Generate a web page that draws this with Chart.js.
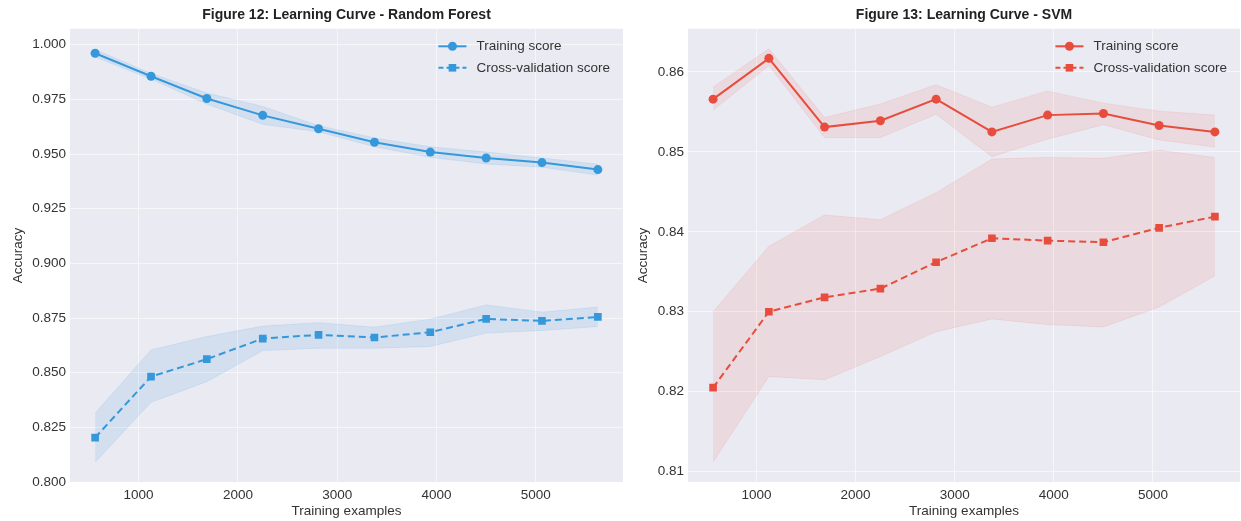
<!DOCTYPE html>
<html>
<head>
<meta charset="utf-8">
<script src="https://cdn.jsdelivr.net/npm/chart.js@4.4.0/dist/chart.umd.min.js"></script>
<style>
    body { margin: 0; background: #ffffff; }
    .painel { position: absolute; top: 0; }
</style>
</head>
<body>
<div class="painel" style="left:0px"><canvas id="graficoRandomForestCanvas" width="625" height="521"></canvas></div>
<div class="painel" style="left:625px"><canvas id="graficoSVMCanvas" width="616" height="521"></canvas></div>
<script>
// tamanhos de treino (eixo x)
const trainSizes = [562, 1125, 1687, 2250, 2812, 3375, 3937, 4500, 5062, 5625]
const xTicks = [1000, 2000, 3000, 4000, 5000]

// Figure 12 - Random Forest
const rfTrainMean = [0.9961, 0.9856, 0.9754, 0.9677, 0.9616, 0.9554, 0.9509, 0.9482, 0.9461, 0.9429]
const rfTrainUpper = [0.9978, 0.9869, 0.9779, 0.9718, 0.9630, 0.9574, 0.9533, 0.9509, 0.9482, 0.9454]
const rfTrainLower = [0.9944, 0.9843, 0.9729, 0.9636, 0.9602, 0.9534, 0.9485, 0.9455, 0.9440, 0.9404]
const rfCvMean = [0.8203, 0.8482, 0.8562, 0.8656, 0.8673, 0.8661, 0.8685, 0.8746, 0.8737, 0.8755]
const rfCvUpper = [0.8315, 0.8604, 0.8665, 0.8713, 0.8729, 0.8708, 0.8745, 0.8810, 0.8777, 0.8800]
const rfCvLower = [0.8090, 0.8365, 0.8459, 0.8601, 0.8612, 0.8612, 0.8620, 0.8681, 0.8693, 0.8711]
const rfYTicks = [0.800, 0.825, 0.850, 0.875, 0.900, 0.925, 0.950, 0.975, 1.000]

// Figure 13 - SVM
const svmTrainMean = [0.8566, 0.8617, 0.8531, 0.8539, 0.8566, 0.8525, 0.8546, 0.8548, 0.8533, 0.8525]
const svmTrainUpper = [0.8581, 0.8629, 0.8543, 0.8560, 0.8584, 0.8556, 0.8576, 0.8561, 0.8551, 0.8546]
const svmTrainLower = [0.8552, 0.8608, 0.8518, 0.8518, 0.8547, 0.8494, 0.8516, 0.8534, 0.8515, 0.8506]
const svmCvMean = [0.8205, 0.8300, 0.8318, 0.8329, 0.8362, 0.8392, 0.8389, 0.8387, 0.8405, 0.8419]
const svmCvUpper = [0.8300, 0.8382, 0.8421, 0.8415, 0.8449, 0.8491, 0.8493, 0.8492, 0.8502, 0.8493]
const svmCvLower = [0.8112, 0.8219, 0.8215, 0.8244, 0.8275, 0.8291, 0.8284, 0.8281, 0.8306, 0.8345]
const svmYTicks = [0.81, 0.82, 0.83, 0.84, 0.85, 0.86]

const fonte = "'Liberation Sans', Arial, sans-serif"
const corTexto = '#333333'

Chart.defaults.font.family = fonte
Chart.defaults.font.size = 13.5
Chart.defaults.color = corTexto

const fundoAreaGrafico = {
    id: 'fundoAreaGrafico',
    beforeDraw(chart) {
        const { ctx, chartArea: { left, top, width, height } } = chart
        ctx.save()
        ctx.fillStyle = '#eaeaf2'
        ctx.fillRect(left, top, width, height)
        ctx.restore()
    }
}

// legenda desenhada dentro da area do grafico (canto superior direito)
const legendaInterna = {
    id: 'legendaInterna',
    afterDatasetsDraw(chart, args, opts) {
        const { ctx, chartArea } = chart
        ctx.save()
        ctx.font = `13.5px ${fonte}`
        let larguraTexto = Math.max(...opts.itens.map(x => ctx.measureText(x.texto).width))
        let xTexto = chartArea.right - 13 - larguraTexto
        let xLinha = xTexto - 38
        opts.itens.forEach((item, i) => {
            let y = chartArea.top + 17.5 + i * 21.5
            ctx.strokeStyle = opts.cor
            ctx.fillStyle = opts.cor
            ctx.lineWidth = 2
            ctx.setLineDash(item.tracejado ? [5, 3] : [])
            ctx.beginPath()
            ctx.moveTo(xLinha, y)
            ctx.lineTo(xLinha + 28, y)
            ctx.stroke()
            ctx.setLineDash([])
            ctx.beginPath()
            if (item.marcador == 'circle') {
                ctx.arc(xLinha + 14, y, 4.5, 0, Math.PI * 2)
            } else {
                ctx.rect(xLinha + 14 - 3.8, y - 3.8, 7.6, 7.6)
            }
            ctx.fill()
            ctx.fillStyle = corTexto
            ctx.textBaseline = 'middle'
            ctx.textAlign = 'left'
            ctx.fillText(item.texto, xTexto, y)
        })
        ctx.restore()
    }
}

function pontos(valores) {
    return trainSizes.map((x, i) => ({ x: x, y: valores[i] }))
}

function criarGraficoCurvaAprendizado(canvasId, titulo, cor, corFaixa, dados, eixoY, larguraEixoY, paddingDireita) {
    let datasets = [
        { label: 'trainLower', data: pontos(dados.trainLower), borderColor: corFaixa, borderWidth: 1, pointRadius: 0, fill: false, order: 2 },
        { label: 'trainUpper', data: pontos(dados.trainUpper), borderColor: corFaixa, borderWidth: 1, pointRadius: 0, fill: '-1', backgroundColor: corFaixa, order: 2 },
        { label: 'cvLower', data: pontos(dados.cvLower), borderColor: corFaixa, borderWidth: 1, pointRadius: 0, fill: false, order: 2 },
        { label: 'cvUpper', data: pontos(dados.cvUpper), borderColor: corFaixa, borderWidth: 1, pointRadius: 0, fill: '-1', backgroundColor: corFaixa, order: 2 },
        {
            label: 'Training score', data: pontos(dados.trainMean), borderColor: cor, backgroundColor: cor,
            borderWidth: 2, pointStyle: 'circle', pointRadius: 4.5, pointBorderWidth: 0, pointBackgroundColor: cor, fill: false, order: 1
        },
        {
            label: 'Cross-validation score', data: pontos(dados.cvMean), borderColor: cor, backgroundColor: cor,
            borderWidth: 2, borderDash: [7, 4], pointStyle: 'rect', pointRadius: 5.4, pointBorderWidth: 0, pointBackgroundColor: cor, fill: false, order: 1
        }
    ]

    return new Chart(document.getElementById(canvasId), {
        type: 'line',
        data: { datasets: datasets },
        options: {
            responsive: false,
            animation: false,
            layout: {
                autoPadding: false,
                padding: { left: 0, right: paddingDireita, top: 0, bottom: 0 }
            },
            plugins: {
                title: {
                    display: true,
                    text: titulo,
                    fullSize: false,
                    color: '#222222',
                    font: { size: 14, weight: 'bold' },
                    padding: { top: 7, bottom: 5 }
                },
                legend: { display: false },
                tooltip: { enabled: false },
                legendaInterna: {
                    cor: cor,
                    itens: [
                        { texto: 'Training score', marcador: 'circle', tracejado: false },
                        { texto: 'Cross-validation score', marcador: 'rect', tracejado: true }
                    ]
                }
            },
            scales: {
                x: {
                    type: 'linear',
                    min: 309,
                    max: 5878,
                    afterBuildTicks: function (scale) {
                        scale.ticks = xTicks.map(v => ({ value: v }))
                    },
                    afterFit: function (scale) {
                        scale.height = 39
                        scale.paddingLeft = 0
                        scale.paddingRight = 0
                    },
                    ticks: {
                        padding: 5,
                        color: corTexto,
                        callback: function (value) {
                            return String(value)
                        }
                    },
                    grid: {
                        color: 'rgba(255,255,255,0.55)',
                        lineWidth: 1,
                        drawTicks: false
                    },
                    border: { display: false },
                    title: {
                        display: true,
                        text: 'Training examples',
                        color: corTexto,
                        padding: { top: 0, bottom: 2 }
                    }
                },
                y: {
                    type: 'linear',
                    min: eixoY.min,
                    max: eixoY.max,
                    afterBuildTicks: function (scale) {
                        scale.ticks = eixoY.ticks.map(v => ({ value: v }))
                    },
                    afterFit: function (scale) {
                        scale.width = larguraEixoY
                        scale.paddingTop = 0
                        scale.paddingBottom = 0
                    },
                    ticks: {
                        padding: 4,
                        color: corTexto,
                        callback: function (value) {
                            return value.toFixed(eixoY.casas)
                        }
                    },
                    grid: {
                        color: 'rgba(255,255,255,0.55)',
                        lineWidth: 1,
                        drawTicks: false
                    },
                    border: { display: false },
                    title: {
                        display: true,
                        text: 'Accuracy',
                        color: corTexto,
                        padding: { top: 10, bottom: 0 }
                    }
                }
            }
        },
        plugins: [fundoAreaGrafico, legendaInterna]
    })
}

criarGraficoCurvaAprendizado('graficoRandomForestCanvas', 'Figure 12: Learning Curve - Random Forest',
    '#3498db', 'rgba(52,152,219,0.12)',
    { trainMean: rfTrainMean, trainUpper: rfTrainUpper, trainLower: rfTrainLower, cvMean: rfCvMean, cvUpper: rfCvUpper, cvLower: rfCvLower },
    { min: 0.800, max: 1.0073, ticks: rfYTicks, casas: 3 }, 70, 2)

criarGraficoCurvaAprendizado('graficoSVMCanvas', 'Figure 13: Learning Curve - SVM',
    '#e74c3c', 'rgba(231,76,60,0.1)',
    { trainMean: svmTrainMean, trainUpper: svmTrainUpper, trainLower: svmTrainLower, cvMean: svmCvMean, cvUpper: svmCvUpper, cvLower: svmCvLower },
    { min: 0.8087, max: 0.8654, ticks: svmYTicks, casas: 2 }, 63, 1)
</script>
</body>
</html>
